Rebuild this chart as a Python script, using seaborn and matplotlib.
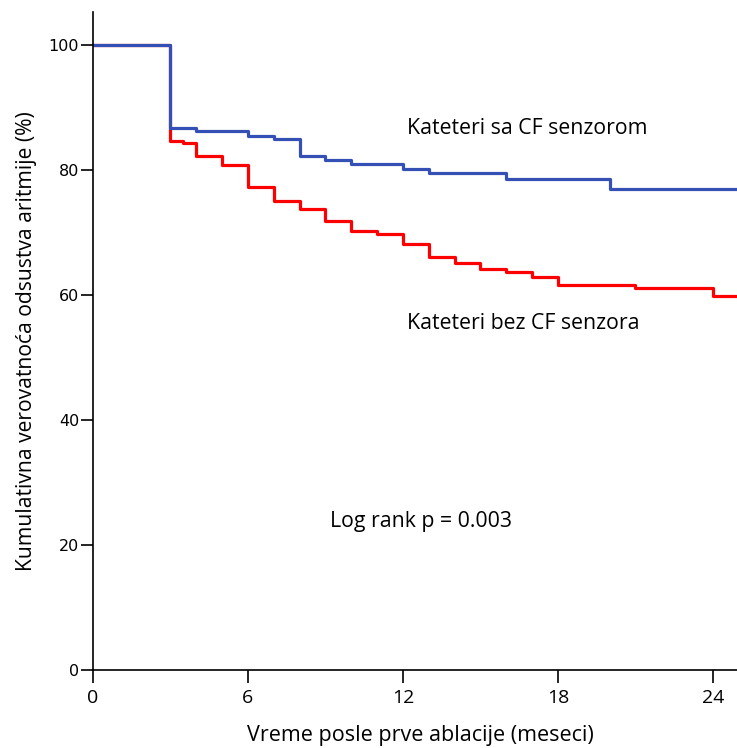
import matplotlib
matplotlib.use("Agg")
import matplotlib.pyplot as plt
import seaborn as sns
import pandas as pd

# Kaplan-Meier step data (months after first ablation, % free of arrhythmia)
months_cf = [0, 3, 4, 6, 7, 8, 9, 10, 12, 13, 16, 20, 25]
surv_cf = [100, 86.8, 86.2, 85.5, 85.0, 82.2, 81.6, 80.9, 80.2, 79.5, 78.6, 76.9, 76.9]

months_nocf = [0, 3, 3.5, 4, 5, 6, 7, 8, 9, 10, 11, 12, 13, 14, 15, 16, 17, 18, 21, 24, 25]
surv_nocf = [100, 84.7, 84.4, 82.3, 80.8, 77.3, 75.1, 73.8, 71.8, 70.3, 69.7, 68.2,
             66.1, 65.1, 64.1, 63.7, 62.9, 61.6, 61.2, 59.8, 59.8]

group_cf = "Kateteri sa CF senzorom"
group_nocf = "Kateteri bez CF senzora"
x_ticks = [0, 6, 12, 18, 24]
y_ticks = [0, 20, 40, 60, 80, 100]
x_title = "Vreme posle prve ablacije (meseci)"
y_title = "Kumulativna verovatnoća odsustva aritmije (%)"
pval_text = "Log rank p = 0.003"

df = pd.concat([
    pd.DataFrame({"t": months_nocf, "s": surv_nocf, "grupa": group_nocf}),
    pd.DataFrame({"t": months_cf, "s": surv_cf, "grupa": group_cf}),
], ignore_index=True)

sns.set_theme(style="white")
plt.rcParams["font.family"] = ["Open Sans", "DejaVu Sans"]
plt.rcParams["text.color"] = "black"
plt.rcParams["axes.labelcolor"] = "black"

fig = plt.figure(figsize=(7.37, 7.48), dpi=100)
ax = fig.add_axes([93 / 737, 78 / 748, 644 / 737, 658 / 748])

palette = {group_nocf: "#FF0000", group_cf: "#3550B4"}
sns.lineplot(data=df, x="t", y="s", hue="grupa", palette=palette,
             hue_order=[group_nocf, group_cf], drawstyle="steps-post",
             linewidth=2.3, legend=False, ax=ax, estimator=None)

ax.set_xlim(0, 24.93)
ax.set_ylim(0, 105.3)
ax.set_xticks(x_ticks)
ax.set_yticks(y_ticks)
ax.tick_params(axis="both", which="major", bottom=True, left=True,
               direction="out", length=9, width=1.2, color="black",
               labelcolor="black")
ax.tick_params(axis="x", labelsize=14, pad=4.5)
ax.tick_params(axis="y", labelsize=11.5, pad=1)
for lab in ax.get_yticklabels():
    lab.set_family("DejaVu Sans")

for side in ("top", "right"):
    ax.spines[side].set_visible(False)
for side in ("left", "bottom"):
    ax.spines[side].set_color("black")
    ax.spines[side].set_linewidth(1.2)

ax.set_xlabel(x_title, fontsize=15.5, va="center")
ax.xaxis.set_label_coords(0.509, -0.1)
ax.set_ylabel(y_title, fontsize=15.2, labelpad=8)

ax.text(12.16, 86.6, group_cf, fontsize=15.3, va="center", ha="left")
ax.text(12.16, 55.4, group_nocf, fontsize=15.3, va="center", ha="left")
ax.text(9.17, 23.7, pval_text, fontsize=15.3, va="center", ha="left")

fig.savefig("out.png", dpi=100)
